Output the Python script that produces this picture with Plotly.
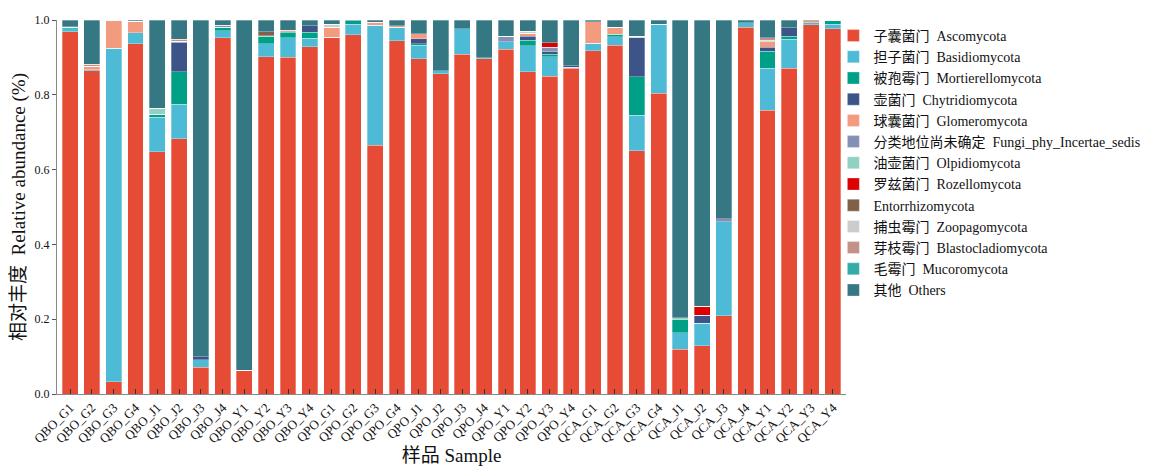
import plotly.graph_objects as go

samples = ["QBO_G1", "QBO_G2", "QBO_G3", "QBO_G4", "QBO_J1", "QBO_J2", "QBO_J3", "QBO_J4",
           "QBO_Y1", "QBO_Y2", "QBO_Y3", "QBO_Y4",
           "QPO_G1", "QPO_G2", "QPO_G3", "QPO_G4", "QPO_J1", "QPO_J2", "QPO_J3", "QPO_J4",
           "QPO_Y1", "QPO_Y2", "QPO_Y3", "QPO_Y4",
           "QCA_G1", "QCA_G2", "QCA_G3", "QCA_G4", "QCA_J1", "QCA_J2", "QCA_J3", "QCA_J4",
           "QCA_Y1", "QCA_Y2", "QCA_Y3", "QCA_Y4"]

ascomycota = [0.968, 0.864, 0.033, 0.936, 0.648, 0.682, 0.071, 0.953, 0.062, 0.902, 0.901, 0.929,
              0.954, 0.961, 0.665, 0.944, 0.896, 0.856, 0.909, 0.897, 0.922, 0.861, 0.850, 0.871,
              0.918, 0.933, 0.651, 0.804, 0.120, 0.129, 0.209, 0.980, 0.759, 0.871, 0.987, 0.976]
basidiomycota = [0.009, 0.003, 0.892, 0.030, 0.092, 0.093, 0.020, 0.018, 0.002, 0.034, 0.052, 0.022,
                 0.000, 0.028, 0.321, 0.036, 0.037, 0.008, 0.068, 0.002, 0.020, 0.070, 0.052, 0.003,
                 0.020, 0.022, 0.095, 0.184, 0.044, 0.060, 0.252, 0.012, 0.112, 0.077, 0.006, 0.013]
mortierellomycota = [0.003, 0, 0, 0, 0.008, 0.087, 0, 0.010, 0, 0.019, 0.014, 0.016,
                     0, 0.009, 0, 0, 0.004, 0, 0, 0, 0, 0.015, 0.007, 0,
                     0, 0.007, 0.102, 0, 0.034, 0, 0, 0, 0.046, 0.009, 0, 0.011]
chytridiomycota = [0, 0, 0, 0, 0, 0.077, 0.009, 0, 0, 0, 0.002, 0.018,
                   0, 0, 0, 0, 0.013, 0, 0, 0, 0, 0.011, 0.006, 0.004,
                   0, 0, 0.105, 0, 0, 0.021, 0, 0, 0.010, 0.022, 0, 0]
glomeromycota = [0, 0.010, 0.075, 0.031, 0, 0, 0, 0, 0, 0, 0, 0,
                 0.026, 0, 0.008, 0.004, 0.013, 0, 0, 0, 0, 0.007, 0, 0,
                 0.058, 0.019, 0, 0, 0, 0, 0, 0, 0.015, 0, 0.005, 0]
incertae_sedis = [0, 0, 0, 0, 0, 0.004, 0, 0.003, 0, 0, 0, 0,
                  0, 0, 0, 0, 0, 0, 0, 0, 0.015, 0, 0.012, 0,
                  0, 0, 0, 0, 0, 0, 0.007, 0, 0, 0, 0, 0]
olpidiomycota = [0.002, 0, 0, 0, 0.016, 0, 0, 0, 0, 0.003, 0, 0,
                 0, 0, 0, 0, 0, 0, 0, 0, 0, 0, 0, 0,
                 0, 0, 0, 0, 0.006, 0, 0, 0, 0, 0, 0, 0]
rozellomycota = [0, 0, 0, 0, 0, 0, 0, 0, 0, 0, 0, 0,
                 0, 0, 0, 0, 0, 0, 0, 0, 0, 0, 0.012, 0,
                 0, 0, 0, 0, 0, 0.025, 0, 0, 0, 0, 0, 0]
entorrhizomycota = [0, 0, 0, 0, 0, 0, 0, 0, 0, 0.010, 0, 0,
                    0, 0, 0, 0, 0, 0, 0, 0, 0, 0, 0, 0,
                    0, 0, 0, 0, 0, 0, 0, 0, 0, 0, 0, 0]
zoopagomycota = [0, 0, 0, 0, 0, 0, 0, 0, 0, 0, 0, 0,
                 0.008, 0, 0, 0, 0, 0, 0, 0, 0, 0.006, 0, 0,
                 0, 0, 0.004, 0, 0, 0, 0, 0, 0.004, 0, 0, 0]
blastocladiomycota = [0, 0.005, 0, 0, 0, 0.005, 0, 0.002, 0, 0, 0.004, 0,
                      0, 0, 0, 0, 0, 0, 0, 0, 0, 0, 0, 0,
                      0, 0, 0, 0, 0, 0, 0, 0, 0.006, 0, 0, 0]
mucoromycota = [0] * 36
others = [0.018, 0.118, 0.000, 0.003, 0.236, 0.052, 0.900, 0.014, 0.936, 0.032, 0.027, 0.015,
          0.012, 0.002, 0.006, 0.016, 0.037, 0.136, 0.023, 0.101, 0.043, 0.030, 0.061, 0.122,
          0.004, 0.019, 0.043, 0.012, 0.796, 0.765, 0.532, 0.008, 0.048, 0.021, 0.002, 0.000]

series = [
    ("子囊菌门  Ascomycota", ascomycota, "#E64B35"),
    ("担子菌门  Basidiomycota", basidiomycota, "#4DBBD5"),
    ("被孢霉门  Mortierellomycota", mortierellomycota, "#00A087"),
    ("壶菌门  Chytridiomycota", chytridiomycota, "#3C5488"),
    ("球囊菌门  Glomeromycota", glomeromycota, "#F39B7F"),
    ("分类地位尚未确定  Fungi_phy_Incertae_sedis", incertae_sedis, "#8491B4"),
    ("油壶菌门  Olpidiomycota", olpidiomycota, "#91D1C2"),
    ("罗兹菌门  Rozellomycota", rozellomycota, "#DC0000"),
    ("Entorrhizomycota", entorrhizomycota, "#7E6148"),
    ("捕虫霉门  Zoopagomycota", zoopagomycota, "#CCCCCC"),
    ("芽枝霉门  Blastocladiomycota", blastocladiomycota, "#C1918A"),
    ("毛霉门  Mucoromycota", mucoromycota, "#33ABA8"),
    ("其他  Others", others, "#357884"),
]

fontFamily = "Liberation Serif, Noto Sans CJK SC"

fig = go.Figure()
for name, vals, col in series:
    fig.add_trace(go.Bar(
        x=samples, y=vals, name=name,
        marker=dict(color=col, line=dict(width=0.3, color="white"))
    ))

# page body adds an 8px offset, so margins are shifted to compensate
fig.update_layout(
    barmode="stack",
    bargap=0.27,
    width=1175, height=470,
    margin=dict(l=49, r=337, t=12, b=84, autoexpand=False),
    plot_bgcolor="white", paper_bgcolor="white",
    font=dict(family=fontFamily, size=12, color="#222"),
    legend=dict(
        traceorder="normal", x=0.984, y=1.0, xanchor="left", yanchor="top",
        font=dict(family=fontFamily, size=14, color="#111"),
        bgcolor="rgba(0,0,0,0)",
        itemwidth=30, tracegroupgap=0
    ),
    showlegend=True
)

fig.update_xaxes(
    automargin=False,
    tickangle=-45, ticks="inside", ticklen=5, tickcolor="#333",
    showline=True, linecolor="#888", linewidth=1,
    tickfont=dict(size=13, color="#111"),
    title=dict(text="样品 Sample", font=dict(size=19, color="#111"), standoff=0),
    range=[-0.6, 35.6]
)
fig.update_yaxes(
    automargin=False,
    range=[0, 1], tickvals=[0, 0.2, 0.4, 0.6, 0.8, 1.0], tickformat=".1f",
    ticks="outside", ticklen=4, tickcolor="#555",
    showline=True, linecolor="#888", linewidth=1, showgrid=False, zeroline=False,
    tickfont=dict(size=12, color="#111"),
    title=dict(text="相对丰度  Relative abundance (%)", font=dict(size=19, color="#111"), standoff=4)
)

fig.write_html("out.html")
